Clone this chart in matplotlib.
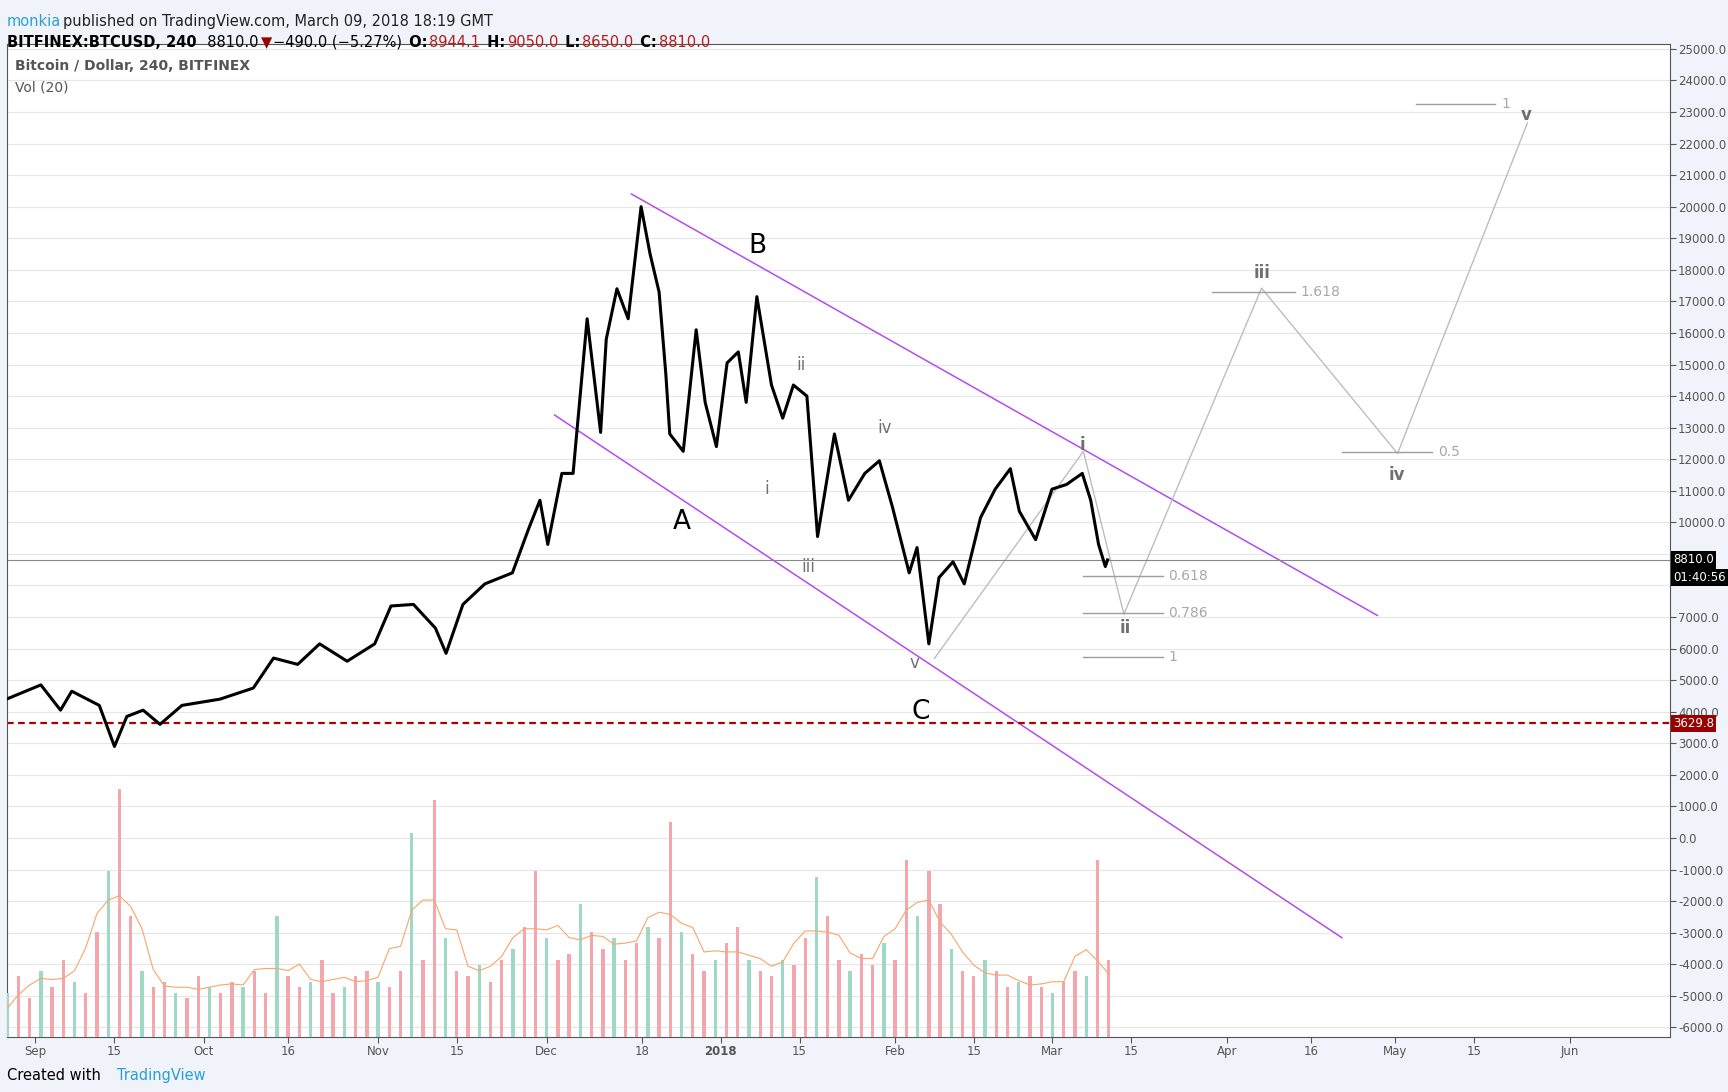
import matplotlib

matplotlib.use("Agg")
import matplotlib.pyplot as plt
import numpy as np

# x values are days since 2017-09-01
PRICE_DAYS = [-5.1, 1.0, 4.5, 6.5, 11.4, 14.1, 16.3, 19.2, 22.2, 26.1, 32.9, 38.8, 42.4, 46.7,
              50.6, 55.5, 60.4, 63.3, 67.3, 71.2, 73.1, 76.1, 80.0, 84.9, 87.8, 89.8, 91.2,
              93.7, 95.7, 98.2, 100.6, 101.6, 103.5, 105.5, 107.8, 109.4, 111.0, 112.2, 112.9,
              115.3, 117.6, 119.2, 121.2, 123.1, 125.1, 126.5, 128.4, 131.0, 133.0, 134.9,
              137.3, 139.2, 142.2, 144.7, 147.6, 150.2, 152.5, 155.5, 156.9, 159.0, 160.8,
              163.3, 165.3, 168.2, 170.8, 173.5, 175.1, 178.0, 180.9, 183.5, 186.3, 187.8,
              189.2, 190.4, 190.8]
PRICE = [4400, 4850, 4050, 4650, 4200, 2900, 3850, 4050, 3600, 4200, 4400, 4750, 5700, 5500,
         6150, 5600, 6150, 7350, 7400, 6650, 5850, 7400, 8050, 8400, 9800, 10700, 9300,
         11550, 11550, 16450, 12850, 15800, 17400, 16450, 20000, 18500, 17300, 14700, 12800,
         12250, 16100, 13800, 12400, 15050, 15400, 13800, 17150, 14350, 13300, 14350,
         14000, 9550, 12800, 10700, 11550, 11950, 10500, 8400, 9200, 6150, 8250,
         8750, 8050, 10150, 11050, 11700, 10350, 9450, 11050, 11200, 11550, 10700,
         9300, 8600, 8810]

VOL_START, VOL_STEP = -5, 2
VOLUME = [40, 55, 35, 60, 45, 70, 50, 40, 95, 150, 225, 110, 60, 45, 50, 40, 35, 55, 45, 40,
          50, 45, 60, 40, 110, 55, 45, 50, 70, 40, 45, 55, 60, 50, 45, 60, 185, 70, 215, 90,
          60, 55, 65, 50, 70, 80, 100, 150, 90, 70, 75, 120, 95, 80, 90, 70, 85, 100, 90, 195,
          95, 75, 60, 70, 85, 100, 70, 60, 55, 70, 65, 90, 145, 110, 70, 60, 75, 65, 85, 70,
          160, 110, 150, 120, 80, 60, 55, 70, 60, 45, 50, 55, 45, 40, 50, 60, 55, 160, 70]

UPPER_CH = ([106.1, 238.8], [20400, 7050])
LOWER_CH = ([92.4, 232.5], [13400, -3160])
PROJ_DAYS = [160.0, 186.5, 193.7, 218.2, 242.4, 265.5]
PROJ_PRICE = [5690, 12250, 7090, 17420, 12180, 22650]
FIB = [("0.618", 186.5, 200.6, 8310), ("0.786", 186.5, 200.6, 7120), ("1", 186.5, 200.6, 5720),
       ("1.618", 209.4, 224.1, 17310), ("0.5", 232.5, 248.6, 12220), ("1", 245.7, 259.8, 23250)]
MAJOR_LABELS = [("B", 128.5, 18750), ("A", 115.0, 10000), ("C", 157.5, 4000)]
MINOR_LABELS = [("i", 130.2, 11050), ("ii", 136.3, 15000), ("iii", 137.6, 8600),
                ("iv", 151.1, 13000), ("v", 156.5, 5550)]
PROJ_LABELS = [("i", 186.3, 12450), ("ii", 193.9, 6650), ("iii", 218.2, 17900),
               ("iv", 242.2, 11500), ("v", 265.3, 22900)]
TICK_DAYS = [0, 14, 30, 45, 61, 75, 91, 108, 122, 136, 153, 167, 181, 195, 212, 227, 242, 256, 273]
TICK_LABELS = ["Sep", "15", "Oct", "16", "Nov", "15", "Dec", "18", "2018", "15", "Feb", "15",
               "Mar", "15", "Apr", "16", "May", "15", "Jun"]
Y_TICKS = list(range(-6000, 25001, 1000))
HIDDEN_Y = [8000, 9000]  # covered by the last-price boxes

fig = plt.figure(figsize=(17.28, 10.92), dpi=100, facecolor="#f0f3fa")
ax = fig.add_axes([0.0038, 0.0505, 0.9624, 0.9091])
ax.set_facecolor("white")
vax = ax.twinx()
ax.set_zorder(0)
vax.set_zorder(1)
vax.patch.set_visible(False)

vd = VOL_START + VOL_STEP * np.arange(len(VOLUME))
cols = ["#f4a6ad" if i % 3 else "#9fd9c6" for i in range(len(VOLUME))]
vax.bar(vd, VOLUME, width=0.6, color=cols, zorder=1)
ma = np.convolve(VOLUME, np.ones(5) / 5, mode="same")
vax.plot(vd, ma, color="#f7a66b", lw=0.8, zorder=2)
vax.set_ylim(0, 900)
vax.set_yticks([])
for s in vax.spines.values():
    s.set_visible(False)

ax.plot(PRICE_DAYS, PRICE, color="black", lw=2.2, zorder=5)
ax.plot(*UPPER_CH, color="#b44cf0", lw=1.1)
ax.plot(*LOWER_CH, color="#b44cf0", lw=1.1)
ax.plot(PROJ_DAYS, PROJ_PRICE, color="#bdbdbd", lw=1.0)
for lab, x0, x1, y in FIB:
    ax.plot([x0, x1], [y, y], color="#9e9e9e", lw=1.0)
    ax.text(x1 + 1.0, y, lab, color="#a8a8a8", fontsize=10, va="center")
for lab, x, y in MAJOR_LABELS:
    ax.text(x, y, lab, fontsize=19, ha="center", va="center", color="black")
for lab, x, y in MINOR_LABELS:
    ax.text(x, y, lab, fontsize=12, ha="center", va="center", color="#707070")
for lab, x, y in PROJ_LABELS:
    ax.text(x, y, lab, fontsize=12, ha="center", va="center", color="#707070", fontweight="bold")

ax.axhline(8810, color="#888888", lw=0.8)
ax.axhline(3629.8, color="#aa0000", lw=1.6, ls=(0, (3, 2)))

ax.set_xlim(-5.1, 290.8)
ax.set_ylim(-6300, 25150)
ax.yaxis.tick_right()
ax.set_yticks(Y_TICKS)
ax.set_yticklabels(["" if v in HIDDEN_Y else f"{v:.1f}" for v in Y_TICKS])
ax.grid(axis="y", color="#e6e6e6", lw=0.8)
ax.set_xticks(TICK_DAYS)
ax.set_xticklabels(TICK_LABELS)
ax.tick_params(colors="#555555", labelsize=8.5, length=4, pad=2)
for lbl in ax.get_xticklabels():
    if lbl.get_text() == "2018":
        lbl.set_fontweight("bold")
for s in ["top", "left", "bottom", "right"]:
    ax.spines[s].set_color("#555555")

box = dict(boxstyle="square,pad=0.2", lw=0)
tr = ax.get_yaxis_transform()
ax.text(1.002, 8810, "8810.0", transform=tr, color="white", fontsize=8.5, va="center",
        bbox={**box, "fc": "black"})
ax.text(1.002, 8250, "01:40:56", transform=tr, color="white", fontsize=8.5, va="center",
        bbox={**box, "fc": "black"})
ax.text(1.002, 3629.8, "3629.8", transform=tr, color="white", fontsize=8.5, va="center",
        bbox={**box, "fc": "#990000"})

ax.text(0.005, 0.985, "Bitcoin / Dollar, 240, BITFINEX", transform=ax.transAxes, fontsize=10,
        color="#555555", fontweight="bold", va="top")
ax.text(0.005, 0.963, "Vol (20)", transform=ax.transAxes, fontsize=10, color="#555555", va="top")

renderer = fig.canvas.get_renderer()


def text_run(y, pieces, x=0.004):
    # place text pieces one after another on a line
    for s, kw in pieces:
        t = fig.text(x, y, s, va="top", fontsize=10.5, **kw)
        bb = t.get_window_extent(renderer)
        x += bb.width / fig.bbox.width + 0.001


text_run(0.987, [("monkia", {"color": "#2a9fd6"}),
                 ("published on TradingView.com, March 09, 2018 18:19 GMT", {"color": "#222222"})])
red = {"color": "#b71c1c"}
bold = {"fontweight": "bold"}
text_run(0.968, [("BITFINEX:BTCUSD, 240", bold), ("  8810.0", {}), ("\u25bc", {"color": "#990000"}),
                 ("\u2212490.0 (\u22125.27%)", {}), (" O:", bold), ("8944.1", red),
                 (" H:", bold), ("9050.0", red), (" L:", bold), ("8650.0", red),
                 (" C:", bold), ("8810.0", red)])
text_run(0.022, [("Created with", {}), ("   TradingView", {"color": "#2a9fd6"})])

fig.savefig("out.png", dpi=100, facecolor=fig.get_facecolor())
